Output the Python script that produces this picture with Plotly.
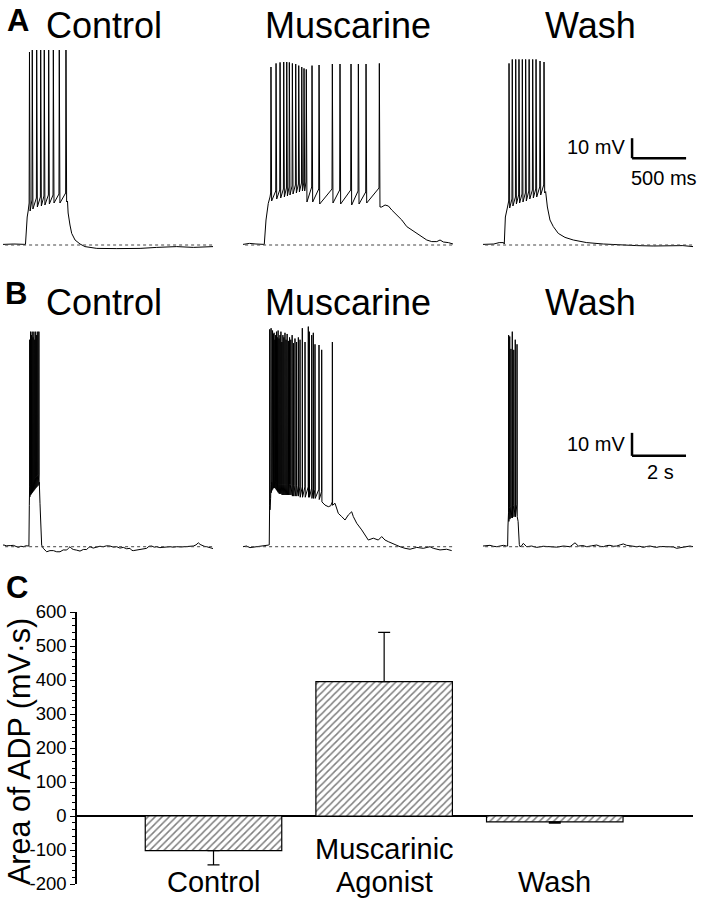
### Import packages ###
import plotly.graph_objects as go

# ~~~~~~~~~~~~~~~~~~~~~~~~~~~~~~~~~~~~~~~~~~~~~~~~~~~~~~~~~~~~~~~~~~~~~~~~~ #
### Data (time in ms, voltage in mV above rest) ###
# ~~~~~~~~~~~~~~~~~~~~~~~~~~~~~~~~~~~~~~~~~~~~~~~~~~~~~~~~~~~~~~~~~~~~~~~~~ #

# A - Control
a_ctrl_t = [0, 100, 208, 214, 224, 233, 597, 603, 620, 636, 667, 713, 759, 868, 1053, 1269, 1423, 1608, 1762, 1944]
a_ctrl_v = [0.3, 0.5, 0.3, 8, 14, 17, 22, 16, 10, 5.8, 2.5, 0.5, -0.8, -1.7, -1.8, -1.7, -1.2, -0.8, -1.2, -0.8]
a_ctrl_spk = [245, 271, 312, 349, 382, 423, 466, 521, 583]
a_ctrl_pk = [96.5, 97.5, 97.5, 97.5, 97.5, 97.5, 97.5, 97.5, 97.5]
a_ctrl_thr = [21, 22.5, 23.5, 24, 24.5, 25, 25, 25.5, 26]
a_ctrl_ahp = [17, 18, 19, 19.5, 20, 20.5, 21, 21, 21.5]

# A - Muscarine
a_musc_t = [0, 60, 120, 190, 197, 213, 234, 250,
            1284, 1315, 1346, 1377, 1423, 1470, 1516, 1562, 1608, 1655, 1701, 1747, 1794, 1824, 1855, 1901, 1944]
a_musc_v = [0.3, 0.8, 0.5, 0.3, 0.3, 12.5, 20.8, 24,
            19, 20, 19.5, 17.5, 15, 12.5, 9.2, 7.5, 6.2, 4.2, 2.5, 1.7, 1.7, 2.5, 1.5, 1.2, 0.5]
a_musc_spk = [259, 306, 343, 377, 405, 429, 457, 488, 516, 544, 565, 586, 639, 704, 827, 898, 1000, 1068, 1139, 1262]
a_musc_pk = [89, 90.8, 91.3, 91.5, 91.5, 91.3, 90.8, 90.5, 89.7, 89, 88.3, 87.8, 89.7, 90, 90.5, 90.5, 90.5, 90.5, 90.5, 90.8]
a_musc_thr = [26, 27, 27.5, 28, 28.5, 29, 29.5, 30, 30.5, 31, 31, 31.5, 29, 28, 28, 27.5, 27.5, 27, 26.5, 28.5]
a_musc_ahp = [22, 23, 23.5, 24, 24.5, 25, 25.5, 26, 26.5, 27, 27, 21.5, 21.5, 20.5, 21, 20.5, 20, 20.5, 21, 19]

# A - Wash
a_wash_t = [0, 100, 150, 190, 197, 207, 225,
            580, 596, 620, 651, 697, 759, 836, 960, 1114, 1269, 1423, 1577, 1732, 1850, 1944]
a_wash_v = [0.3, 0.5, 1.2, 1.2, 0.5, 14, 18.5,
            26.7, 19, 12.5, 9.2, 5.8, 3.8, 2.5, 1.2, 0.5, 0, -0.3, -0.5, -0.5, -0.3, -0.8]
a_wash_spk = [241, 271, 303, 333, 364, 395, 427, 460, 491, 528, 565]
a_wash_pk = [90.8, 92.8, 92.8, 92.8, 92.8, 92.8, 92.8, 92.8, 92.8, 92, 91.5]
a_wash_thr = [22, 23, 24, 25, 25.5, 26, 27, 27.5, 28, 29, 30]
a_wash_ahp = [18.5, 19.5, 20.5, 21, 21.5, 22, 23, 23.5, 24, 25, 26]

# B - Control
b_ctrl_t = [0, 37, 120, 197, 290, 383, 470, 568, 660, 753, 850, 938, 960, 975,
            1345, 1370, 1395, 1432, 1493, 1617, 1740, 1864, 1990, 2111, 2230, 2358, 2420, 2482, 2540, 2605,
            2730, 2852, 2975, 3099, 3160, 3222, 3340, 3469, 3590, 3716, 3840, 3963, 4090, 4210, 4330,
            4457, 4580, 4704, 4770, 4827, 4950, 5074, 5200, 5321, 5410, 5506, 5600, 5691, 5810, 5938,
            6060, 6185, 6300, 6432, 6620, 6803, 6930, 7050, 7150, 7235, 7300, 7358, 7450, 7544, 7670, 7778]
b_ctrl_v = [0.7, 0.74, 0.4, 0.3, 0.5, 0.6, 0, -0.3, 0.2, 0, 0.4, 0.3, 0.3, 18,
            28, 18.9, 7.3, 0.7, -0.7, -2.2, -1.7, -1.7, -2.2, -2.2, -1.4, -1.45, -0.7, 0, -0.8, -1.2,
            -1.5, -1.9, -1.2, -1.2, -0.5, 0, -0.6, -0.3, 0.2, 0, 0.4, 0.3, -0.2, 0, -0.6,
            -0.3, -0.9, -0.7, -1.6, -1.7, -1.45, -1.45, -0.9, -0.7, 0.2, 0.3, -0.2, 0, -0.4, -0.3,
            0.1, 0, -0.2, 0, -0.1, 0, 0.2, 0.3, 0.8, 1.7, 1.0, 0.6, 0.2, 0, -0.6, -0.8]
b_ctrl_spk = [990, 1020, 1050, 1080, 1112, 1145, 1178, 1212, 1248, 1288, 1330]
b_ctrl_pk = [90, 93.5, 92, 93.5, 91, 93.5, 90, 93.5, 92, 93.5, 93.5]
b_ctrl_thr = [26, 27, 27.5, 28, 28.5, 29, 29.5, 30, 30.5, 31, 31.5]
b_ctrl_ahp = [21.7, 22.5, 23, 23.5, 24, 24.5, 25, 25.5, 26, 26.5, 27]

# B - Muscarine
b_musc_t = [0, 130, 259, 380, 507, 630, 752, 850, 937, 972, 982,
            3037, 3160, 3250, 3408, 3530, 3656, 3778, 3900, 4026, 4086, 4212, 4397, 4519, 4641, 4826,
            5012, 5137, 5260, 5382, 5508, 5630, 5815, 6001, 6186, 6434, 6678, 6926, 7049, 7297, 7545, 7730]
b_musc_v = [0, 0.3, -0.4, -0.2, -0.3, 0.1, 0.3, 0.4, 0.7, 0.8, 14,
            18.1, 17.4, 17.8, 18.9, 14.5, 13.1, 11.6, 13.8, 15.2, 13.1, 10.2, 7.3, 5.1, 2.9, 3.7,
            2.9, 4.4, 2.9, 2.2, 1.5, 0.7, 0, -0.7, -1.1, -0.3, -0.7, 0, -0.7, -1.4, -1.1, -1.7]
b_musc_spk = [990, 1015, 1040, 1068, 1095, 1122, 1150, 1180, 1210, 1240, 1270, 1300, 1335, 1370,
              1405, 1440, 1478, 1515, 1555, 1595, 1635, 1680, 1725, 1770, 1820, 1870, 1925, 1985,
              2050, 2111, 2197, 2297, 2419, 2456, 2545, 2604, 2667, 2815, 2915, 3310]
b_musc_pk = [94.5, 93, 95, 91, 94, 92.5, 93, 90, 92, 93.5, 91, 94, 90.5, 92, 93.5, 89, 92, 91, 93, 90,
             92.5, 89.5, 91, 90, 92, 88.5, 90.5, 89, 91, 90, 95, 89, 95.7, 93.5, 92, 93, 88, 87.7, 85.6, 89]
b_musc_thr = [18, 24, 27, 28, 28.5, 29, 29, 29, 28.5, 28, 28, 27.5, 27, 27, 27, 27, 27, 27, 27, 27,
              27, 27, 27, 27, 26.5, 26.5, 26.5, 26.5, 26.5, 26, 26, 26, 26, 25.5, 25.5, 25.5, 25, 25, 24, 19.5]
b_musc_ahp = [16, 21, 23.5, 24.5, 25, 25.5, 25.5, 25.5, 25, 24.5, 24, 23.5, 23, 23, 23, 22.5, 22.5, 22.5,
              22.5, 22.5, 22.5, 22.5, 22.5, 22.5, 22, 22, 22, 22, 22, 21.5, 21.5, 21.5, 21.5, 21.5, 21, 21,
              21, 20.5, 19.5, 18]

# B - Wash
b_wash_t = [0, 130, 259, 380, 506, 630, 753, 876, 912, 925,
            1300, 1315, 1345, 1370, 1430, 1494, 1560, 1617, 1800, 1988, 2230, 2482, 2730, 2976, 3100,
            3222, 3407, 3531, 3700, 3840, 4030, 4210, 4330, 4457, 4580, 4704, 4830, 4951, 5080, 5198,
            5321, 5500, 5691, 5810, 5938, 6060, 6185, 6300, 6432, 6560, 6679, 6800, 6926, 7050, 7173,
            7300, 7420, 7550, 7667, 7778]
b_wash_v = [0.3, 0.5, 0.6, 0.2, 0, 0.3, 0.6, 0.3, 0.3, 9,
            11, 6, 1, 0, 0.4, 1.45, 0.5, 0, 0.3, -0.3, 0.2, 0, -0.2, 0.3, 0.1,
            0, 1.7, 0.3, 0.5, 0, 0.4, 0.74, 0.2, 0, 0.5, 0.6, 0.2, 0.3, 0.8, 1.2,
            0.6, 0.2, 0, 0.2, -0.3, 0.1, 0.3, 0, -0.3, 0.1, 0, -0.2, -0.3, -0.1, -0.7,
            -0.4, -0.3, 0, 0.3, 0]
b_wash_spk = [950, 990, 1035, 1085, 1140, 1195, 1260]
b_wash_pk = [92, 91.4, 86, 93.5, 85.6, 90, 88]
b_wash_thr = [15, 17, 17.5, 18, 18, 18.5, 18.5]
b_wash_ahp = [11, 12, 12.5, 12.5, 13, 13, 13]

# C - bar chart
cond_labels = ['Control', 'Muscarinic', 'Wash']
cond_labels2 = ['', 'Agonist', '']
adp_area = [-102, 395, -17]
adp_err_up = [0, 145, 0]
adp_err_down = [42, 0, 4]
y_tick_vals = [-200, -100, 0, 100, 200, 300, 400, 500, 600]

# ~~~~~~~~~~~~~~~~~~~~~~~~~~~~~~~~~~~~~~~~~~~~~~~~~~~~~~~~~~~~~~~~~~~~~~~~~ #
### Functions ###
# ~~~~~~~~~~~~~~~~~~~~~~~~~~~~~~~~~~~~~~~~~~~~~~~~~~~~~~~~~~~~~~~~~~~~~~~~~ #

W, H = 702, 900
FONT = 'Liberation Sans, Arial, sans-serif'


def xdom(a, b):
    return [a / W, b / W]


def ydom(top, bottom):
    return [1 - bottom / H, 1 - top / H]


def ax(n):
    return '' if n == 1 else str(n)


def with_spikes(env_t, env_v, spk_t, spk_pk, spk_thr, spk_ahp, rise, fall):
    # each spike: threshold -> peak -> afterhyperpolarisation
    pts = list(zip(env_t, env_v))
    for t, pk, th, ah in zip(spk_t, spk_pk, spk_thr, spk_ahp):
        pts += [(t - rise, th), (t, pk), (t + fall, ah)]
    pts.sort(key=lambda p: p[0])
    return [p[0] for p in pts], [p[1] for p in pts]


traces_a = [
    with_spikes(a_ctrl_t, a_ctrl_v, a_ctrl_spk, a_ctrl_pk, a_ctrl_thr, a_ctrl_ahp, 3, 6),
    with_spikes(a_musc_t, a_musc_v, a_musc_spk, a_musc_pk, a_musc_thr, a_musc_ahp, 3, 6),
    with_spikes(a_wash_t, a_wash_v, a_wash_spk, a_wash_pk, a_wash_thr, a_wash_ahp, 3, 6),
]
traces_b = [
    with_spikes(b_ctrl_t, b_ctrl_v, b_ctrl_spk, b_ctrl_pk, b_ctrl_thr, b_ctrl_ahp, 4, 8),
    with_spikes(b_musc_t, b_musc_v, b_musc_spk, b_musc_pk, b_musc_thr, b_musc_ahp, 4, 8),
    with_spikes(b_wash_t, b_wash_v, b_wash_spk, b_wash_pk, b_wash_thr, b_wash_ahp, 4, 8),
]

col_px = [(3, 213), (243, 453), (483, 693)]

fig = go.Figure()
layout = {}
shapes = []

for row, (trs, xr, yr, ypx) in enumerate([(traces_a, [0, 1944], [-5, 102.5], (40, 255)),
                                          (traces_b, [0, 7778], [-5.78, 98.57], (320, 560))]):
    for col, (t, v) in enumerate(trs):
        n = row * 3 + col + 1
        fig.add_trace(go.Scatter(x=t, y=v, mode='lines', line=dict(color='black', width=1),
                                 xaxis='x' + ax(n), yaxis='y' + ax(n), showlegend=False, hoverinfo='skip'))
        layout['xaxis' + ax(n)] = dict(domain=xdom(*col_px[col]), range=xr, visible=False,
                                       anchor='y' + ax(n), fixedrange=True)
        layout['yaxis' + ax(n)] = dict(domain=ydom(*ypx), range=yr, visible=False,
                                       anchor='x' + ax(n), fixedrange=True)
        # dotted resting level
        shapes.append(dict(type='line', xref='x%s domain' % ax(n), yref='y' + ax(n), x0=0.01, x1=1, y0=0, y1=0,
                           line=dict(color='#444', width=1, dash='dot')))

# scale bars
shapes += [
    dict(type='line', xref='x3', yref='y3', x0=1380, x1=1380, y0=43.4, y1=53.4, line=dict(color='black', width=2.5)),
    dict(type='line', xref='x3', yref='y3', x0=1380, x1=1880, y0=43.4, y1=43.4, line=dict(color='black', width=2.5)),
    dict(type='line', xref='x6', yref='y6', x0=5519, x1=5519, y0=39.5, y1=49.5, line=dict(color='black', width=2.5)),
    dict(type='line', xref='x6', yref='y6', x0=5519, x1=7519, y0=39.5, y1=39.5, line=dict(color='black', width=2.5)),
]

# bar chart
fig.add_trace(go.Bar(x=[0, 1, 2], y=adp_area, width=0.8, xaxis='x7', yaxis='y7', showlegend=False,
                     marker=dict(color='white', line=dict(color='black', width=1.2),
                                 pattern=dict(shape='/', fgcolor='black', bgcolor='white', size=5, solidity=0.3)),
                     error_y=dict(type='data', symmetric=False, array=adp_err_up, arrayminus=adp_err_down,
                                  color='black', thickness=1.2, width=6)))

layout['xaxis7'] = dict(domain=xdom(77, 693), range=[-0.8, 2.81], anchor='y7', showline=False,
                        showticklabels=False, ticks='', showgrid=False, zeroline=False, fixedrange=True)
layout['yaxis7'] = dict(domain=ydom(612, 884), range=[-200, 600], anchor='x7', showline=True,
                        linecolor='black', linewidth=1.5, ticks='outside', ticklen=5, tickwidth=1,
                        tickcolor='black', tickmode='array', tickvals=y_tick_vals,
                        ticktext=[str(v) for v in y_tick_vals], tickfont=dict(size=18.5, color='black'),
                        minor=dict(tickmode='linear', tick0=0, dtick=20, ticks='outside', ticklen=3,
                                   tickcolor='black', tickwidth=1),
                        showgrid=False, zeroline=True, zerolinecolor='black', zerolinewidth=1.5,
                        automargin=False, fixedrange=True)

annotations = []


def text(s, x, y, size, bold=False, xanchor='center', xref='paper', angle=0):
    annotations.append(dict(text='<b>%s</b>' % s if bold else s, x=x if xref != 'paper' else x / W,
                            y=1 - y / H, xref=xref, yref='paper', xanchor=xanchor, yanchor='middle',
                            showarrow=False, textangle=angle, font=dict(family=FONT, size=size, color='black')))


# panel letters and condition titles
text('A', 18, 21, 31, bold=True)
text('B', 16, 293, 31, bold=True)
text('C', 17, 587, 31, bold=True)
for lbl, xc in zip(['Control', 'Muscarine', 'Wash'], [104, 348, 590]):
    text(lbl, xc, 25, 36)
    text(lbl, xc, 302, 36)

# scale bar labels
text('10 mV', 627, 147, 20, xanchor='right')
text('500 ms', 664, 178, 20)
text('10 mV', 627, 444, 20, xanchor='right')
text('2 s', 660, 472, 20)

# bar chart labels
for i, (l1, l2) in enumerate(zip(cond_labels, cond_labels2)):
    if l2:
        text(l1, i, 849, 29, xref='x7')
        text(l2, i, 882, 29, xref='x7')
    else:
        text(l1, i, 882, 29, xref='x7')
text('Area of ADP (mV·s)', 19, 752, 30.5, angle=-90)

fig.update_layout(width=W, height=H, margin=dict(l=0, r=0, t=0, b=0, pad=0, autoexpand=False), autosize=False,
                  paper_bgcolor='white', plot_bgcolor='white', font=dict(family=FONT, color='black'),
                  shapes=shapes, annotations=annotations, **layout)

fig.write_html("out.html", config={'displayModeBar': False},
               post_script="document.body.style.margin='0';document.body.style.overflow='hidden';")
